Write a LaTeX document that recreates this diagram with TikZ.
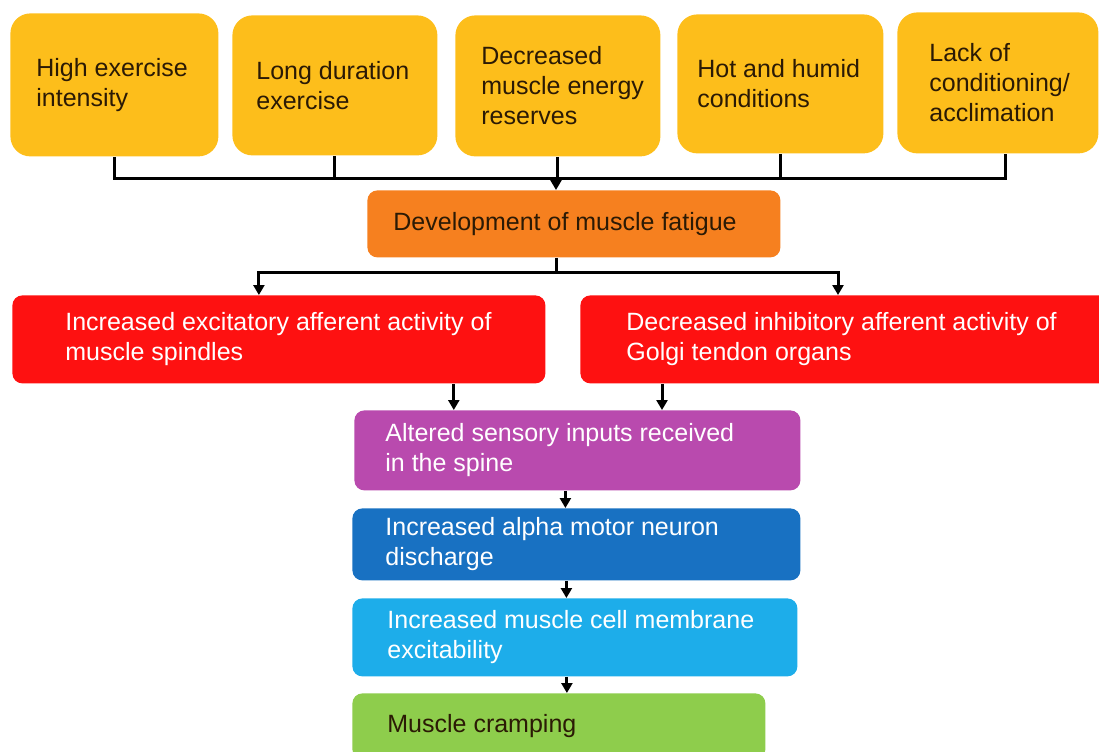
\documentclass[tikz,border=0pt]{standalone}
\usepackage{fontspec}
\setmainfont{Liberation Sans}
\usepackage{xcolor}
\usepackage{tikz}
\usetikzlibrary{positioning, arrows.meta, calc}
\definecolor{sunYellow}{HTML}{FDBE1B}
\definecolor{fatigueOrange}{HTML}{F6801F}
\definecolor{afferentRed}{HTML}{FE1111}
\definecolor{spinePurple}{HTML}{B94AAE}
\definecolor{alphaBlue}{HTML}{1871C2}
\definecolor{membraneBlue}{HTML}{1DADEA}
\definecolor{crampGreen}{HTML}{8ECD4C}
\definecolor{inkDark}{HTML}{2B1A05}

\begin{document}
\begin{tikzpicture}[x=0.5pt,y=-0.5pt]
    \tikzset{box/.style={anchor=north west,rounded corners=5pt,inner sep=0pt},
      cause/.style={box,fill=sunYellow,rounded corners=10pt,minimum width=103pt,minimum height=70pt},
      lbl/.style={inner sep=0pt,align=left,font=\fontsize{12.5}{15}\selectfont},
      dark/.style={lbl,text=inkDark}, light/.style={lbl,text=white},
      wire/.style={line width=1.5pt,draw=black},
      arr/.style={wire,-{Triangle[width=5.5pt,length=5pt]}}}
    \useasboundingbox (0,0) rectangle (1099,751);
    % causes
    \node[cause,minimum width=104pt,minimum height=71.5pt] (y1) at (10,13) {};
    \node[cause,minimum width=102.5pt] (y2) at (232,15) {};
    \node[cause,minimum width=102.5pt,minimum height=70.5pt] (y3) at (455,15) {};
    \node[cause,minimum width=103pt,minimum height=69.5pt] (y4) at (677,14) {};
    \node[cause,minimum width=100.5pt,minimum height=70.5pt] (y5) at (897,12) {};
    \node[dark,right=13pt of y1.west] (t1) {High exercise\\intensity};
    \node[dark,right=12pt of y2.west] (t2) {Long duration\\exercise};
    \node[dark,right=13pt of y3.west] (t3) {Decreased\\muscle energy\\reserves};
    \node[dark,right=10pt of y4.west] (t4) {Hot and humid\\conditions};
    \node[dark,right=16pt of y5.west] (t5) {Lack of\\conditioning/\\acclimation};
    % fatigue
    \node[box,fill=fatigueOrange,minimum width=206.5pt,minimum height=33.5pt] (fat) at (367,190) {};
    \node[dark,right=13pt of fat.west] (tf) {Development of muscle fatigue};
    % afferents
    \node[box,fill=afferentRed,minimum width=266.5pt,minimum height=44pt] (r1) at (12,295) {};
    \node[box,fill=afferentRed,minimum width=270pt,minimum height=44pt] (r2) at (580,295) {};
    \node[light,right=26.5pt of r1.west] (tr1) {Increased excitatory afferent activity of\\muscle spindles};
    \node[light,right=23pt of r2.west] (tr2) {Decreased inhibitory afferent activity of\\Golgi tendon organs};
    % chain
    \node[box,fill=spinePurple,minimum width=223pt,minimum height=40pt] (sens) at (354,410) {};
    \node[light,right=15.5pt of sens.west] (ts) {Altered sensory inputs received\\in the spine};
    \node[box,fill=alphaBlue,minimum width=224pt,minimum height=36pt] (alpha) at (352,508) {};
    \node[light,right=16.5pt of alpha.west] (ta) {Increased alpha motor neuron\\discharge};
    \node[box,fill=membraneBlue,minimum width=222.5pt,minimum height=39pt] (memb) at (352,598) {};
    \node[light,right=17.5pt of memb.west] (tm) {Increased muscle cell membrane\\excitability};
    \node[box,fill=crampGreen,minimum width=206.5pt,minimum height=33pt] (cramp) at (352,693) {};
    \node[dark,right=17.5pt of cramp.west] (tc) {Muscle cramping};
    % connectors
    \coordinate (bus) at (556,178);
    \coordinate (split) at (556,272);
    \draw[wire] (y1.south) |- ([xshift=4pt]y5.south |- bus) -- ([xshift=4pt]y5.south);
    \foreach \c in {y2,y3,y4} \draw[wire] (\c.south) -- (\c.south |- bus);
    \draw[arr] (bus) -- (bus |- fat.north);
    \draw[wire] (split |- fat.south) -- (split);
    \draw[arr] (split) -| ([xshift=-10pt]r1.north);
    \draw[arr] (split) -| ([xshift=129pt]r2.north west);
    \draw[arr] ([xshift=-46pt]r1.south east) -- ([xshift=-46pt]r1.south east |- sens.north);
    \draw[arr] ([xshift=41pt]r2.south west) -- ([xshift=41pt]r2.south west |- sens.north);
    \draw[arr] ([xshift=-6pt]sens.south) -- ([xshift=-6pt]sens.south |- alpha.north);
    \draw[arr] ([xshift=-5pt]alpha.south) -- ([xshift=-5pt]alpha.south |- memb.north);
    \draw[arr] ([xshift=-4pt]memb.south) -- ([xshift=-4pt]memb.south |- cramp.north);
  \end{tikzpicture}
\end{document}
